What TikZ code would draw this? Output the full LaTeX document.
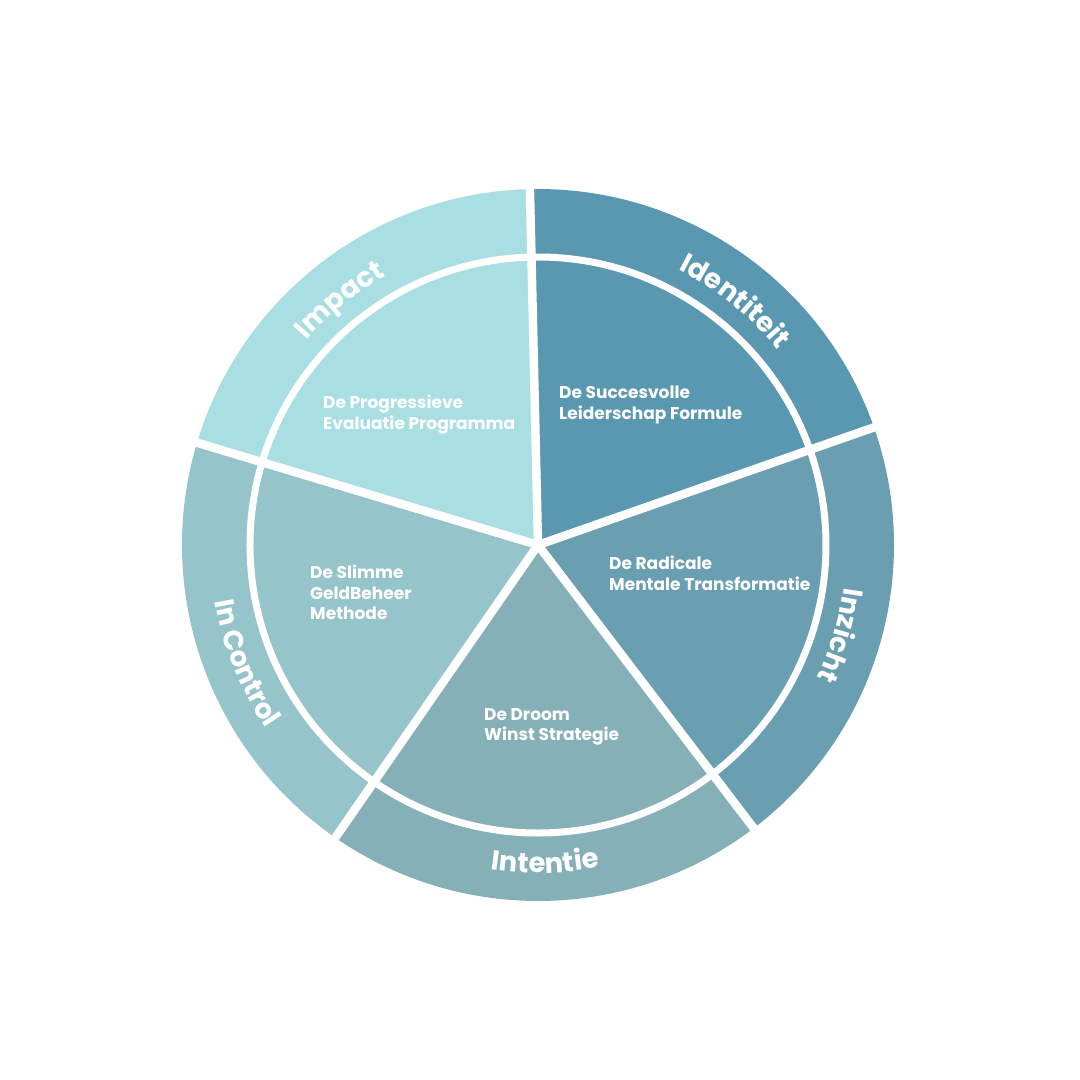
\documentclass[tikz,border=0pt]{standalone}
\usepackage{fontspec}
\setmainfont{Poppins}
\usetikzlibrary{decorations.text}
\definecolor{cImpact}{HTML}{A9DFE3}
\definecolor{cIdent}{HTML}{5A98B1}
\definecolor{cInzicht}{HTML}{6A9EB1}
\definecolor{cIntentie}{HTML}{86B0B8}
\definecolor{cControl}{HTML}{96C4CB}
\newcommand{\outerfont}{\color{white}\bfseries\fontsize{27.5}{27.5}\selectfont}
\tikzset{
  sector/.style={draw=none},
  spoke/.style={draw=white, line width=8.5pt},
  ring/.style={draw=white, line width=7pt},
  inlabel/.style={anchor=north west, inner sep=0pt, align=left, text=white,
    font=\bfseries\fontsize{17}{20.5}\selectfont},
}
\begin{document}
\begin{tikzpicture}[x=1pt,y=1pt]
\useasboundingbox[fill=white] (-538,-535) rectangle (542,545);
\coordinate (O) at (0,0);
\def\R{356}
% sectors
\fill[cImpact]   (O) -- (91.3:\R)  arc[start angle=91.3,  end angle=163.3, radius=\R] -- cycle;
\fill[cControl]  (O) -- (163.3:\R) arc[start angle=163.3, end angle=235.3, radius=\R] -- cycle;
\fill[cIntentie] (O) -- (235.3:\R) arc[start angle=235.3, end angle=307.3, radius=\R] -- cycle;
\fill[cInzicht]  (O) -- (307.3:\R) arc[start angle=307.3, end angle=379.3, radius=\R] -- cycle;
\fill[cIdent]    (O) -- (19.3:\R)  arc[start angle=19.3,  end angle=91.3,  radius=\R] -- cycle;
% ring and spokes
\draw[ring] (O) circle[radius=288];
\foreach \a in {91.3,163.3,235.3,307.3,19.3}
  \draw[spoke] (O) -- (\a:\R+4);
% outer curved labels
\path[decorate, decoration={text along path, text align=center,
  text={|\outerfont|Impact}}]
  (165:309) arc[start angle=165, end angle=93, radius=309];
\path[decorate, decoration={text along path, text align=center,
  text={|\outerfont|Identiteit}}]
  (87:309) arc[start angle=87, end angle=15, radius=309];
\path[decorate, decoration={text along path, text align=center,
  text={|\outerfont|Inzicht}}]
  (19.3:309) arc[start angle=19.3, end angle=-52.7, radius=309];
\path[decorate, decoration={text along path, text align=center,
  text={|\outerfont|Intentie}}]
  (235.3:328) arc[start angle=235.3, end angle=307.3, radius=328];
\path[decorate, decoration={text along path, text align=center,
  text={|\outerfont|In Control}}]
  (166:328) arc[start angle=166, end angle=238, radius=328];
% inner labels
\node[inlabel] (tImpact)   at (-215,150) {De Progressieve\\Evaluatie Programma};
\node[inlabel] (tIdent)    at (21,159)   {De Succesvolle\\Leiderschap Formule};
\node[inlabel] (tInzicht)  at (71,-11)   {De Radicale\\Mentale Transformatie};
\node[inlabel] (tIntentie) at (-54,-163) {De Droom\\Winst Strategie};
\node[inlabel] (tControl)  at (-228,-20) {De Slimme\\GeldBeheer\\Methode};
\end{tikzpicture}
\end{document}
